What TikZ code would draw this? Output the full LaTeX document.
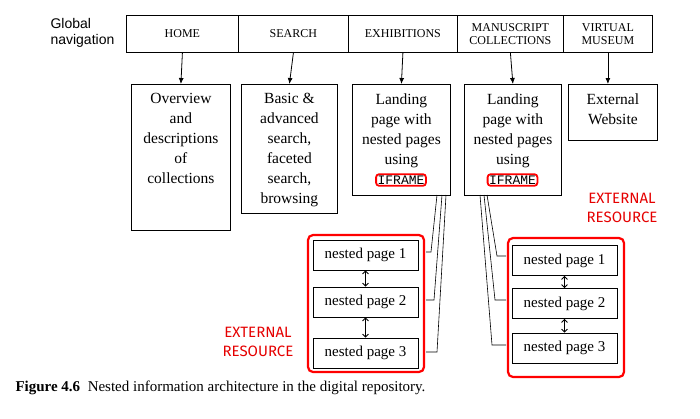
\documentclass[tikz,border=0pt]{standalone}
\usepackage{fontspec}
\setmainfont{Liberation Serif}
\newfontfamily\sans{Liberation Sans}
\newfontfamily\hand{Fira Sans}
\newfontfamily\mono{Liberation Mono}
\usetikzlibrary{arrows.meta}
\begin{document}
\begin{tikzpicture}[x=1pt,y=-1pt,
 nav/.style={draw,thick,minimum height=37pt,inner sep=0pt,font=\fontsize{12}{13.5}\selectfont,align=center},
 pg/.style={draw,thick,anchor=north west,inner sep=0pt,minimum width=#1},
 bt/.style={anchor=north,align=center,font=\fontsize{15.5}{20}\selectfont},
 np/.style={draw,thick,minimum width=105pt,minimum height=30pt,inner sep=0pt,font=\fontsize{15}{16}\selectfont},
 grp/.style={draw=red,line width=2.2pt,rounded corners=5pt},
 ifr/.style={draw=red,line width=1.8pt,rounded corners=3pt,inner sep=1.5pt,font=\mono\fontsize{13}{14}\selectfont},
 ext/.style={text=red!90!black,font=\hand\fontsize{15}{19}\selectfont,align=center},
 arr/.style={thick,-{Latex[length=6pt,width=5pt]}},
 dbl/.style={thick,{Straight Barb[length=3pt]}-{Straight Barb[length=3pt]}},
 con/.style={line width=0.6pt}]
\useasboundingbox (0,0) rectangle (700,418);
\node[font=\sans\fontsize{14}{16}\selectfont,align=left,anchor=west] (gn) at (47,33) {Global\\navigation};
\node[nav,minimum width=112pt,anchor=north west] (home) at (126,15) {HOME};
\node[nav,minimum width=110pt,anchor=north west] (search) at (238,15) {SEARCH};
\node[nav,minimum width=109pt,anchor=north west] (exh) at (348,15) {EXHIBITIONS};
\node[nav,minimum width=106pt,anchor=north west] (man) at (457,15) {MANUSCRIPT\\COLLECTIONS};
\node[nav,minimum width=89pt,anchor=north west] (vir) at (563,15) {VIRTUAL\\MUSEUM};
\node[pg=99pt,minimum height=146pt] (bhome) at (131,84) {};
\node[bt] (thome) at ([yshift=-6pt]bhome.north) {Overview\\and\\descriptions\\of\\collections};
\node[pg=96pt,minimum height=129pt] (bsearch) at (241,84) {};
\node[bt] (tsearch) at ([yshift=-6pt]bsearch.north) {Basic \&\\advanced\\search,\\faceted\\search,\\browsing};
\node[pg=98pt,minimum height=111pt] (bexh) at (352,84) {};
\node[bt] (texh) at ([yshift=-6pt]bexh.north) {Landing\\page with\\nested pages\\using};
\node[pg=97pt,minimum height=111pt] (bman) at (464,84) {};
\node[bt] (tman) at ([yshift=-6pt]bman.north) {Landing\\page with\\nested pages\\using};
\node[pg=89pt,minimum height=56pt] (bvir) at (568,84) {};
\node[bt] (tvir) at ([yshift=-6pt]bvir.north) {External\\Website};
\node[ifr] (if1) at (401,180) {IFRAME};
\node[ifr] (if2) at (512.5,180) {IFRAME};
\draw[arr] (home.south) -- (bhome.north);
\draw[arr] (search.south) -- (bsearch.north);
\draw[arr] (exh.south) -- (bexh.north);
\draw[arr] (man.south) -- (bman.north);
\draw[arr] (vir.south) -- (bvir.north -| vir.south);
% left group
\draw[grp] (308,235) rectangle (424,372);
\node[np] (l1) at (365.5,255) {nested page 1};
\node[np] (l2) at (365.5,302) {nested page 2};
\node[np] (l3) at (365.5,353) {nested page 3};
\draw[dbl] (l1.south) -- (l2.north);
\draw[dbl] (l2.south) -- (l3.north);
% right group
\draw[grp] (508,238) rectangle (624,377);
\node[np] (r1) at (564.5,260.5) {nested page 1};
\node[np] (r2) at (564.5,303.5) {nested page 2};
\node[np] (r3) at (564.5,348) {nested page 3};
\draw[dbl] (r1.south) -- (r2.north);
\draw[dbl] (r2.south) -- (r3.north);
% connectors
\coordinate (e1) at (437,195); \coordinate (e2) at (442,195); \coordinate (e3) at (446,195);
\draw[con] (e1) -- (431,252) -- (426,252);
\draw[con] (e2) -- (434,300) -- (426,300);
\draw[con] (e3) -- (437,352) -- (426,352);
\coordinate (m1) at (480,195); \coordinate (m2) at (484,195); \coordinate (m3) at (487,195);
\draw[con] (m3) -- (497,256) -- (506,256);
\draw[con] (m2) -- (495,300) -- (506,300);
\draw[con] (m1) -- (492,345) -- (506,345);
\node[ext] (x1) at (622,208) {EXTERNAL\\RESOURCE};
\node[ext] (x2) at (258,342) {EXTERNAL\\RESOURCE};
\node[anchor=west,font=\fontsize{15}{17}\selectfont] (cap) at (12,388) {\textbf{Figure 4.6}\ \ Nested information architecture in the digital repository.};
\end{tikzpicture}
\end{document}
